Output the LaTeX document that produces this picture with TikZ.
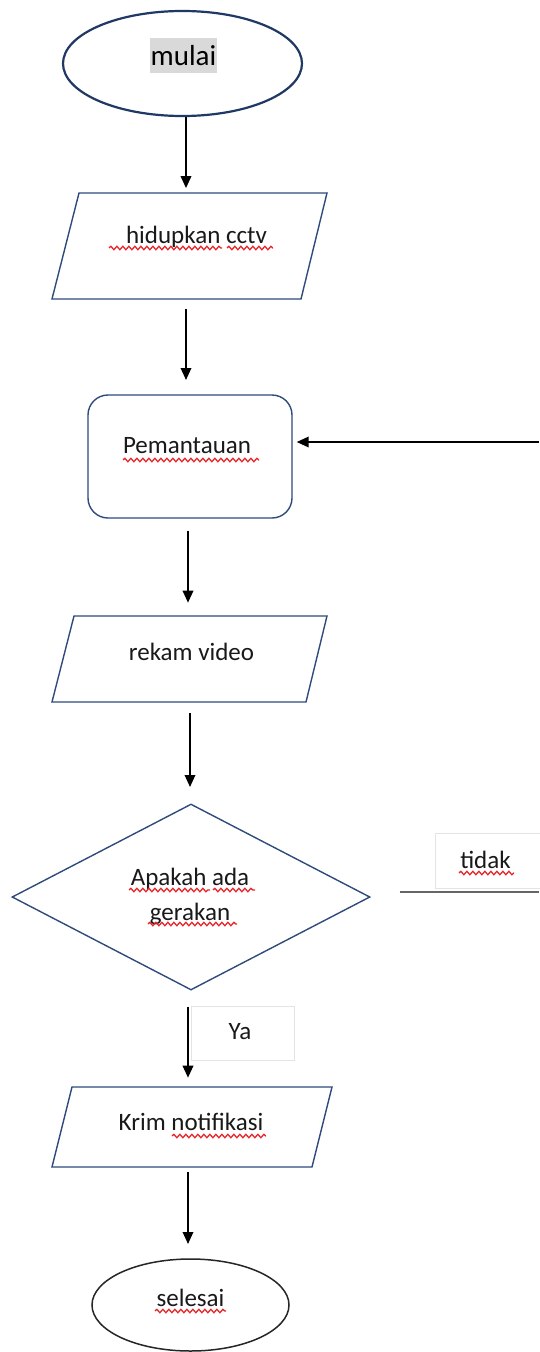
\documentclass[tikz,border=0pt]{standalone}
\usepackage{fontspec}
\setmainfont{Carlito}
\usetikzlibrary{shapes.geometric,arrows.meta,decorations.pathmorphing,calc}
\definecolor{navy}{HTML}{2F4B7C}
\definecolor{navyd}{HTML}{1F3864}
\definecolor{hl}{HTML}{D9D9D9}
\definecolor{sq}{HTML}{E8262A}
\definecolor{lbl}{HTML}{E4E4E4}
\begin{document}
\begin{tikzpicture}[x=1pt,y=-1pt,
 shapeline/.style={draw=navy,line width=1.4pt},
 parabox/.style={rectangle,inner sep=0pt,outer sep=0pt},
 txt/.style={anchor=base,font=\fontsize{25}{29}\selectfont,text=black!90,inner sep=0pt},
 arr/.style={line width=1.8pt,-{Triangle[length=12pt,width=10.5pt]}},
 fbline/.style={draw=black!60,line width=2pt},
 squig/.style={draw=sq,line width=1.3pt,decorate,decoration={snake,segment length=6pt,amplitude=1.7pt}},
 lblbox/.style={draw=lbl,fill=white,line width=0.8pt,inner sep=0pt}
]
\fill[white] (0,0) rectangle (539,1352);
\useasboundingbox (0,0) rectangle (539,1352);

% shapes
\node[ellipse,draw=navyd,line width=2.2pt,minimum width=239,minimum height=105,inner sep=0pt] (mulai) at (182.5,63.5) {};
\node[fill=hl,inner sep=0pt,minimum width=67,minimum height=35,font=\fontsize{29}{33}\selectfont] (tmulai) at (183.5,55.5) {mulai};

\node[parabox,minimum width=275,minimum height=106] (p1) at (189.5,246) {};
\draw[shapeline] (p1.south west) -- ($(p1.south east)+(-26,0)$) -- (p1.north east) -- ($(p1.north west)+(27,0)$) -- cycle;
\node[txt] (t1) at (196.5,243) {hidupkan cctv};

\node[shapeline,rectangle,rounded corners=20pt,minimum width=204,minimum height=123,inner sep=0pt] (pem) at (190,456.5) {};
\node[txt] (tpem) at (187,453) {Pemantauan};

\node[parabox,minimum width=275,minimum height=86] (p2) at (189.5,659) {};
\draw[shapeline] (p2.south west) -- ($(p2.south east)+(-21,0)$) -- (p2.north east) -- ($(p2.north west)+(22,0)$) -- cycle;
\node[txt] (t2) at (191.5,660) {rekam video};

\node[shapeline,diamond,minimum width=358,minimum height=186,inner sep=0pt] (dec) at (191,897) {};
\node[txt] (tdec1) at (190,885) {Apakah ada};
\node[txt] (tdec2) at (190,920) {gerakan};

\node[parabox,minimum width=280,minimum height=80] (p3) at (192,1127) {};
\draw[shapeline] (p3.south west) -- ($(p3.south east)+(-20,0)$) -- (p3.north east) -- ($(p3.north west)+(20,0)$) -- cycle;
\node[txt] (t3) at (191,1130) {Krim notifikasi};

\node[ellipse,draw=black!85,line width=1.5pt,minimum width=197,minimum height=92,inner sep=0pt] (sel) at (190.5,1305) {};
\node[txt] (tsel) at (190.5,1306) {selesai};

% label boxes
\node[lblbox,minimum width=106,minimum height=55] (ltidak) at (488,860.5) {};
\node[txt] (ttidak) at (485.5,868) {tidak};
\node[lblbox,minimum width=103,minimum height=54] (lya) at (242.5,1033) {};
\node[txt] (tya) at (240,1039) {Ya};

% connectors
\draw[arr] ([xshift=3.5pt]mulai.south) -- ++(0,71);
\draw[arr] ($(p1.south)+(-3.5,10)$) -- ++(0,71);
\draw[arr] ($(pem.south)+(-2,12)$) -- ++(0,72);
\draw[arr] ($(p2.south)+(0.5,11)$) -- ++(0,74);
\draw[arr] ($(dec.south)+(-3,16)$) -- ++(0,71);
\draw[arr] ($(p3.south)+(-4,5)$) -- ++(0,72);

\coordinate (nstart) at ($(dec.east)+(29,-5)$);
\coordinate (redge1) at (539,892);
\coordinate (redge2) at (539,442);
\draw[fbline] (nstart) -- (redge1);
\draw[arr] (redge2) -- ($(pem.east)+(4,-14.5)$);

% spell-check underlines
\draw[squig] (109,248) -- (222,248);
\draw[squig] (227,248) -- (273,248);
\draw[squig] (123,460) -- (259,460);
\draw[squig] (129,890) -- (210,890);
\draw[squig] (213,890) -- (255,890);
\draw[squig] (148,924) -- (237,924);
\draw[squig] (459,873) -- (514,873);
\draw[squig] (172,1136) -- (266,1136);
\draw[squig] (155,1311) -- (226,1311);
\end{tikzpicture}
\end{document}
